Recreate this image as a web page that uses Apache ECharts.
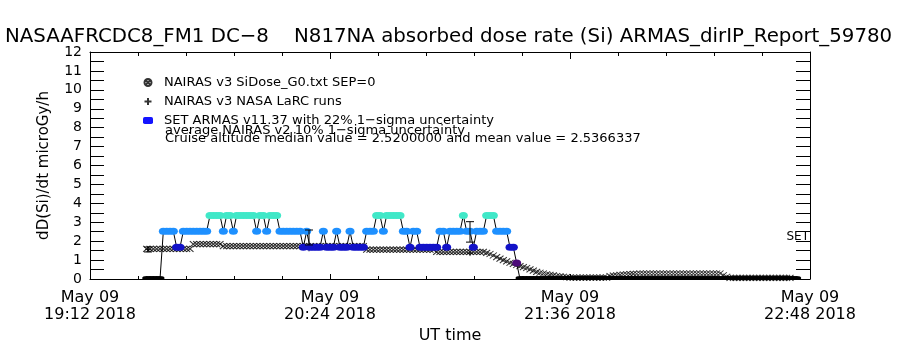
<!DOCTYPE html>
<html>
<head>
<meta charset="utf-8">
<title>ARMAS absorbed dose rate</title>
<script src="https://cdn.jsdelivr.net/npm/echarts@6/dist/echarts.min.js"></script>
<style>
  html, body { margin: 0; padding: 0; background: #fff; }
  #chart { width: 900px; height: 350px; }
</style>
</head>
<body>
<div id="chart"></div>
<script>
  // x values are minutes after 19:12 UT (May 09 2018), one sample per minute
  var startMinute = 17;
  var xTickLabels = ['May 09\n19:12 2018', 'May 09\n20:24 2018', 'May 09\n21:36 2018', 'May 09\n22:48 2018'];

  // NAIRAS v3 SiDose_G0, minutes 17..211
  var nairasRate = [
    1.59, 1.59, 1.59, 1.59, 1.59, 1.59, 1.59, 1.59, 1.59, 1.59, 1.59, 1.59, 1.59, 1.59,
    1.84, 1.84, 1.84, 1.84, 1.84, 1.84, 1.84, 1.84, 1.84,
    1.74, 1.74, 1.74, 1.74, 1.74, 1.74, 1.74, 1.74, 1.74, 1.74, 1.74, 1.74, 1.74, 1.74, 1.74,
    1.74, 1.74, 1.74, 1.74, 1.74, 1.74, 1.74, 1.74, 1.74, 1.74, 1.74, 1.74, 1.74, 1.74, 1.74,
    1.74, 1.74, 1.74, 1.74, 1.74, 1.74, 1.74, 1.74, 1.74, 1.74, 1.74, 1.74, 1.74,
    1.55, 1.55, 1.55, 1.55, 1.55, 1.55, 1.55, 1.55, 1.55, 1.55, 1.55, 1.55, 1.55, 1.55, 1.55,
    1.55, 1.55, 1.55, 1.55, 1.55, 1.55,
    1.43, 1.43, 1.43, 1.43, 1.43, 1.43, 1.43, 1.43, 1.43, 1.43, 1.43, 1.43, 1.43, 1.43, 1.43,
    1.38, 1.32, 1.24, 1.16, 1.08, 1.00, 0.93, 0.86, 0.80, 0.74, 0.68, 0.63, 0.58, 0.51, 0.44,
    0.38, 0.33, 0.29, 0.25, 0.22, 0.19, 0.16, 0.14, 0.12, 0.10,
    0.07, 0.07, 0.07, 0.07, 0.07, 0.07, 0.07, 0.07, 0.07, 0.07, 0.07, 0.07,
    0.15, 0.18, 0.20, 0.22, 0.24, 0.25, 0.26, 0.27, 0.28,
    0.29, 0.29, 0.29, 0.29, 0.29, 0.29, 0.29, 0.29, 0.29, 0.29, 0.29, 0.29, 0.29, 0.29, 0.29,
    0.29, 0.29, 0.29, 0.29, 0.29, 0.29, 0.29, 0.29, 0.29, 0.29,
    0.20, 0.12,
    0.06, 0.06, 0.06, 0.06, 0.06, 0.06, 0.06, 0.06, 0.06, 0.06, 0.06, 0.06, 0.06, 0.06, 0.06,
    0.06, 0.06, 0.06, 0.06
  ];

  // NAIRAS v3 NASA LaRC runs, minutes 17..211
  var larcRate = [
    0, 0, 0, 0, 0, 0, 0, 0, 0, 0, 0, 0, 0, 0, 0, 0, 0, 0, 0, 0, 0, 0, 0, 0, 0, 0, 0, 0, 0, 0, 0, 0, 0, 0, 0, 0, 0, 0, 0,
    0, 0, 0, 0, 0, 0, 0, 0, 0, 0, 0, 0, 0, 0, 0, 0, 0, 0, 0, 0, 0, 0, 0, 0, 0, 0, 0, 0, 0, 0, 0, 0, 0, 0, 0, 0, 0, 0, 0,
    0, 0, 0, 0, 0, 0, 0, 0, 0, 0, 0, 0, 0, 0, 0, 0, 0, 0, 0, 0, 0, 0, 0, 0, 0, 0, 0, 0, 0, 0, 0, 0, 0, 0, 0, 0, 0, 0, 0,
    0, 0, 0, 0, 0, 0, 0, 0, 0, 0, 0, 0, 0, 0, 0, 0, 0, 0, 0, 0, 0, 0, 0, 0, 0, 0, 0, 0, 0, 0, 0, 0, 0, 0, 0, 0, 0, 0, 0,
    0, 0, 0, 0, 0, 0, 0, 0, 0, 0, 0, 0, 0, 0, 0, 0, 0, 0, 0, 0, 0, 0, 0, 0, 0, 0, 0, 0, 0, 0, 0, 0, 0, 0, 0, 0, 0, 0, 0
  ];
  // LaRC runs with uncertainty bars: [minute, value, low, high]
  var larcBars = [
    [17.4, 1.57, 1.43, 1.69],
    [65.7, 1.62, 1.80, 2.59],
    [114.0, 1.37, 1.95, 3.03]
  ];

  // SET ARMAS v11.37, minutes 17..212
  var armasRate = [
    0, 0, 0, 0, 0,
    2.52, 2.52, 2.52, 2.52, 1.68, 1.68,
    2.52, 2.52, 2.52, 2.52, 2.52, 2.52, 2.52, 2.52,
    3.36, 3.36, 3.36, 3.36, 2.52, 3.36, 3.36, 2.52,
    3.36, 3.36, 3.36, 3.36, 3.36, 3.36, 2.52, 3.36, 3.36, 2.52, 3.36, 3.36, 3.36,
    2.52, 2.52, 2.52, 2.52, 2.52, 2.52, 2.52,
    1.68, 2.52, 1.68, 1.68, 1.68, 1.68, 2.52, 1.68, 1.68, 1.68, 2.52,
    1.68, 1.68, 1.68, 2.52, 1.68, 1.68, 1.68, 1.68, 2.52, 2.52, 2.52,
    3.36, 3.36, 2.52, 3.36, 3.36, 3.36, 3.36, 3.36,
    2.52, 2.52, 1.68, 2.52, 2.52, 1.68, 1.68, 1.68, 1.68, 1.68, 1.68,
    2.52, 2.52, 1.68, 2.52, 2.52, 2.52, 2.52, 3.36, 2.52, 2.52, 1.68, 2.52, 2.52, 2.52,
    3.36, 3.36, 3.36, 2.52, 2.52, 2.52, 2.52, 1.68, 1.68, 0.84,
    0, 0, 0, 0, 0, 0, 0, 0, 0, 0, 0, 0, 0, 0, 0, 0, 0, 0, 0, 0, 0,
    0, 0, 0, 0, 0, 0, 0, 0, 0, 0, 0, 0, 0, 0, 0, 0, 0, 0, 0, 0, 0,
    0, 0, 0, 0, 0, 0, 0, 0, 0, 0, 0, 0, 0, 0, 0, 0, 0, 0, 0, 0, 0,
    0, 0, 0, 0, 0, 0, 0, 0, 0, 0, 0, 0, 0, 0, 0, 0, 0, 0, 0, 0, 0
  ];

  var nairasName = 'NAIRAS v3 SiDose_G0.txt SEP=0';
  var larcName = 'NAIRAS v3 NASA LaRC runs';
  var armasName = 'SET ARMAS v11.37 with 22% 1\u2212sigma uncertainty';
  var font = '"DejaVu Sans", sans-serif';

  var armasColors = { '0': '#000000', '0.84': '#4b0a78', '1.68': '#1212c8', '2.52': '#1e90ff', '3.36': '#40e8c8' };
  var circleCross = 'path://M0,5 A5,5 0 1,0 10,5 A5,5 0 1,0 0,5 Z M1.5,1.5 L8.5,8.5 M8.5,1.5 L1.5,8.5';
  var crossSymbol = 'path://M0,0 L10,10 M10,0 L0,10';
  var plusSymbol = 'path://M3,0 L3,6 M0,3 L6,3';
  var stemSymbol = 'path://M0,0 L0,4';

  var nairasData = nairasRate.map(function (v, i) { return [startMinute + i, v]; });
  // runs at zero only show their upper stem above the axis
  var larcData = larcRate.map(function (v, i) {
    return v === 0
      ? { value: [startMinute + i, v], symbol: stemSymbol, symbolSize: [1, 3], symbolOffset: [0, -1.5] }
      : [startMinute + i, v];
  }).concat(larcBars.map(function (b) { return [b[0], b[1]]; }));
  var armasData = armasRate.map(function (v, i) {
    return {
      value: [startMinute + i, v],
      symbolSize: v === 0 ? [9, 4] : [9, 7],
      symbolOffset: v === 0 ? [0, -1] : [0, 0],
      itemStyle: { color: armasColors[String(v)] }
    };
  });

  var chart = echarts.init(document.getElementById('chart'));

  var boxAxisLine = { show: true, onZero: false, lineStyle: { color: '#000', width: 1 } };

  chart.setOption({
    animation: false,
    backgroundColor: '#fff',
    title: {
      text: 'NASAAFRCDC8_FM1 DC\u22128    N817NA absorbed dose rate (Si) ARMAS_dirIP_Report_59780',
      left: 5,
      top: 27,
      padding: 0,
      textStyle: { fontFamily: font, fontSize: 19.8, fontWeight: 'normal', color: '#000' }
    },
    legend: {
      orient: 'vertical',
      left: 143,
      top: 76,
      padding: 0,
      itemWidth: 10,
      itemHeight: 7,
      itemGap: 6,
      selectedMode: false,
      textStyle: { fontFamily: font, fontSize: 13, color: '#000', padding: [0, 0, 0, 6] },
      data: [
        { name: nairasName, icon: circleCross },
        { name: larcName, icon: plusSymbol },
        { name: armasName, icon: 'roundRect', itemStyle: { color: '#1414ff' } }
      ]
    },
    graphic: [
      { type: 'text', x: 165, y: 131, style: { text: 'average NAIRAS v2 10% 1\u2212sigma uncertainty', font: '13px ' + font, fill: '#000', verticalAlign: 'middle' } },
      { type: 'text', x: 165, y: 139, style: { text: 'Cruise altitude median value = 2.5200000 and mean value = 2.5366337', font: '13px ' + font, fill: '#000', verticalAlign: 'middle' } },
      { type: 'text', x: 809, y: 237, style: { text: 'SET', font: '12px ' + font, fill: '#000', align: 'right', verticalAlign: 'middle' } }
    ],
    grid: { left: 90, right: 90, top: 52, bottom: 71, containLabel: false, outerBoundsMode: 'none' },
    xAxis: [
      {
        type: 'value', min: 0, max: 216, interval: 72,
        name: 'UT time', nameLocation: 'middle', nameGap: 45,
        nameTextStyle: { fontFamily: font, fontSize: 16, color: '#000' },
        axisLine: boxAxisLine,
        axisTick: { inside: true, length: 5, lineStyle: { color: '#000' } },
        minorTick: { show: true, splitNumber: 5, length: 3, lineStyle: { color: '#000' } },
        splitLine: { show: false },
        axisLabel: {
          fontFamily: font, fontSize: 16, color: '#000', lineHeight: 17, margin: 10,
          formatter: function (v) { return xTickLabels[Math.round(v / 72)]; }
        }
      },
      {
        type: 'value', position: 'top', min: 0, max: 216, interval: 72,
        axisLine: boxAxisLine,
        axisTick: { inside: true, length: 7, lineStyle: { color: '#000' } },
        minorTick: { show: true, splitNumber: 5, length: 4, lineStyle: { color: '#000' } },
        splitLine: { show: false },
        axisLabel: { show: false }
      }
    ],
    yAxis: [
      {
        type: 'value', min: 0, max: 12, interval: 1,
        name: 'dD(Si)/dt microGy/h', nameLocation: 'middle', nameGap: 38,
        nameTextStyle: { fontFamily: font, fontSize: 15, color: '#000' },
        axisLine: boxAxisLine,
        axisTick: { show: true, inside: true, length: 14, lineStyle: { color: '#000' } },
        minorTick: { show: true, splitNumber: 2, length: 14, lineStyle: { color: '#000' } },
        splitLine: { show: false },
        axisLabel: { fontFamily: font, fontSize: 14, color: '#000', margin: 8 }
      },
      {
        type: 'value', position: 'right', min: 0, max: 12, interval: 1,
        axisLine: boxAxisLine,
        axisTick: { show: true, inside: true, length: 14, lineStyle: { color: '#000' } },
        minorTick: { show: true, splitNumber: 2, length: 14, lineStyle: { color: '#000' } },
        splitLine: { show: false },
        axisLabel: { show: false }
      }
    ],
    series: [
      {
        name: nairasName,
        type: 'scatter',
        data: nairasData,
        symbol: crossSymbol,
        symbolSize: [7, 6],
        itemStyle: { color: 'transparent', borderColor: '#000', borderWidth: 1 },
        z: 2
      },
      {
        name: larcName,
        type: 'scatter',
        data: larcData,
        symbol: plusSymbol,
        symbolSize: 6,
        itemStyle: { color: 'transparent', borderColor: '#000', borderWidth: 1 },
        z: 2
      },
      {
        type: 'custom',
        data: larcBars,
        encode: { x: 0, y: [2, 3] },
        renderItem: function (params, api) {
          var lo = api.coord([api.value(0), api.value(2)]);
          var hi = api.coord([api.value(0), api.value(3)]);
          var s = { stroke: '#000', lineWidth: 1 };
          return {
            type: 'group',
            children: [
              { type: 'line', shape: { x1: lo[0], y1: lo[1], x2: hi[0], y2: hi[1] }, style: s },
              { type: 'line', shape: { x1: lo[0] - 4, y1: lo[1], x2: lo[0] + 4, y2: lo[1] }, style: s },
              { type: 'line', shape: { x1: hi[0] - 4, y1: hi[1], x2: hi[0] + 4, y2: hi[1] }, style: s }
            ]
          };
        },
        z: 4
      },
      {
        name: armasName,
        type: 'line',
        data: armasData,
        symbol: 'circle',
        showSymbol: true,
        showAllSymbol: true,
        lineStyle: { color: '#000', width: 1 },
        z: 3
      }
    ]
  });
</script>
</body>
</html>
